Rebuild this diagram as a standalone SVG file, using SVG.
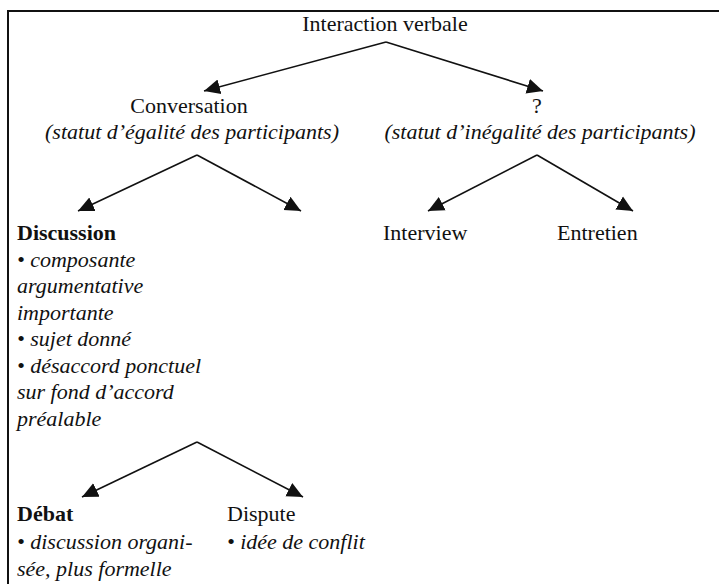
<svg xmlns="http://www.w3.org/2000/svg" width="719" height="584" viewBox="0 0 719 584">
<style>
text{font-family:"Liberation Serif","Times New Roman",serif;font-size:22px;fill:#111}
.c{text-anchor:middle}
.i{font-style:italic}
.b{font-weight:bold}
.ln{stroke:#111;stroke-width:1.6;fill:none}
.frame{stroke:#111;stroke-width:2;fill:none}
</style>
<defs>
<marker id="ah" markerUnits="userSpaceOnUse" markerWidth="18" markerHeight="18" viewBox="0 -9 18 18" refX="16" refY="0" orient="auto">
<path d="M0,-7.5 L16,0 L0,7.5 z" fill="#111"/>
</marker>
</defs>
<rect width="719" height="584" fill="#fff"/>
<path class="frame" d="M8,584 V11 H719"/>
<g id="connectors">
<path class="ln" d="M386,42 L204,91" marker-end="url(#ah)"/>
<path class="ln" d="M386,42 L543,91" marker-end="url(#ah)"/>
<path class="ln" d="M197,155 L78,211" marker-end="url(#ah)"/>
<path class="ln" d="M197,155 L301,211" marker-end="url(#ah)"/>
<path class="ln" d="M537,155 L428,211" marker-end="url(#ah)"/>
<path class="ln" d="M537,155 L633,211" marker-end="url(#ah)"/>
<path class="ln" d="M197,442 L82,497" marker-end="url(#ah)"/>
<path class="ln" d="M197,442 L303,497" marker-end="url(#ah)"/>
</g>
<g id="interaction"><text class="c" x="385" y="31">Interaction verbale</text></g>
<g id="conversation">
<text class="c" x="189" y="113">Conversation</text>
<text class="c i" x="192" y="139">(statut d’égalité des participants)</text>
</g>
<g id="inegalite">
<text class="c" x="537" y="113">?</text>
<text class="c i" x="540" y="139">(statut d’inégalité des participants)</text>
</g>
<g id="discussion">
<text class="b" x="17" y="240">Discussion</text>
<text class="i" x="17" y="266.5">• composante</text>
<text class="i" x="17" y="293">argumentative</text>
<text class="i" x="17" y="319.5">importante</text>
<text class="i" x="17" y="346">• sujet donné</text>
<text class="i" x="17" y="372.5">• désaccord ponctuel</text>
<text class="i" x="17" y="399">sur fond d’accord</text>
<text class="i" x="17" y="425.5">préalable</text>
</g>
<g id="interview"><text x="383" y="240">Interview</text></g>
<g id="entretien"><text x="557" y="240">Entretien</text></g>
<g id="debat">
<text class="b" x="17" y="521">Débat</text>
<text class="i" x="17" y="549">• discussion organi-</text>
<text class="i" x="17" y="576">sée, plus formelle</text>
</g>
<g id="dispute">
<text x="227" y="521">Dispute</text>
<text class="i" x="227" y="549">• idée de conflit</text>
</g>
</svg>
